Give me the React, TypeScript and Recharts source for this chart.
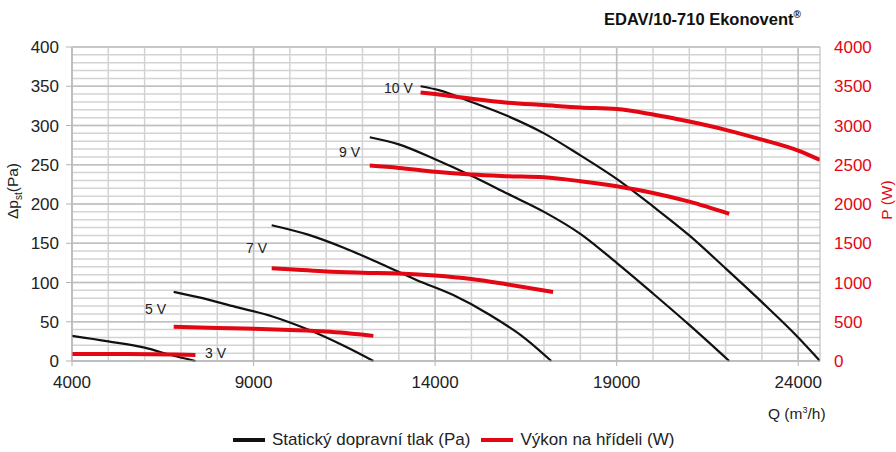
import React from 'react'
import { ComposedChart, Line, XAxis, YAxis, CartesianGrid } from 'recharts'

const RED = '#e30613'
const INK = '#111111'
const FONT = '"Liberation Sans", Arial, sans-serif'

// osa Q (m3/h)
const Q_TICKS = [4000, 9000, 14000, 19000, 24000]
const Q_MIN = 4000
const Q_MAX = 24600
const PA_TICKS = [0, 50, 100, 150, 200, 250, 300, 350, 400]
const W_TICKS = [0, 500, 1000, 1500, 2000, 2500, 3000, 3500, 4000]
const Q_MINOR = Array.from({ length: 21 }, (_, i) => 4000 + i * 1000)
const PA_MINOR = Array.from({ length: 41 }, (_, i) => i * 10)

// statický tlak (Pa)
const q10 = [13600, 14100, 15000, 16000, 17000, 18000, 19000, 20000, 21000, 22000, 23000, 24000, 24600]
const pa10 = [350, 345, 330, 312, 290, 262, 232, 197, 160, 118, 75, 30, 0]
const q9 = [12200, 13000, 14000, 15000, 16000, 17000, 18000, 19000, 20000, 21000, 22100]
const pa9 = [285, 276, 257, 236, 213, 190, 162, 125, 86, 46, 0]
const q7 = [9500, 10500, 11500, 12500, 13500, 14500, 15500, 16500, 17200]
const pa7 = [173, 161, 144, 124, 103, 84, 59, 28, 0]
const q5 = [6800, 7500, 8500, 9500, 10500, 11500, 12300]
const pa5 = [88, 81, 69, 57, 40, 19, 0]
const q3 = [4000, 5000, 6000, 6700, 7400]
const pa3 = [32, 25, 17, 8, 0]

// výkon na hřídeli (W)
const wq10 = [13600, 14000, 15000, 16000, 17000, 18000, 19000, 20000, 21000, 22000, 23000, 24000, 24600]
const w10 = [3420, 3400, 3340, 3290, 3260, 3230, 3210, 3140, 3050, 2945, 2820, 2680, 2560]
const wq9 = [12200, 13000, 14000, 15000, 16000, 17000, 18000, 19000, 20000, 21000, 22100]
const w9 = [2490, 2460, 2410, 2375, 2355, 2340, 2290, 2225, 2140, 2030, 1875]
const wq7 = [9500, 10000, 11000, 12000, 13000, 14000, 15000, 16000, 17250]
const w7 = [1180, 1170, 1140, 1125, 1115, 1090, 1045, 975, 880]
const wq5 = [6800, 8000, 9000, 10000, 11000, 12300]
const w5 = [435, 420, 410, 395, 375, 320]
const wq3 = [4000, 5500, 7400]
const w3 = [90, 88, 78]

const zip = (xs: number[], ys: number[]) => xs.map((x, i) => ({ q: x, v: ys[i] }))

const pressure = [zip(q10, pa10), zip(q9, pa9), zip(q7, pa7), zip(q5, pa5), zip(q3, pa3)]
const power = [zip(wq10, w10), zip(wq9, w9), zip(wq7, w7), zip(wq5, w5), zip(wq3, w3)]

const VOLT_LABELS = [
  { text: '10 V', left: 384, top: 80 },
  { text: '9 V', left: 339, top: 144 },
  { text: '7 V', left: 246, top: 240 },
  { text: '5 V', left: 145, top: 301 },
  { text: '3 V', left: 205, top: 345 },
]

const abs = (s: React.CSSProperties): React.CSSProperties => ({ position: 'absolute', whiteSpace: 'nowrap', ...s })

export default function App() {
  return (
    <div style={{ position: 'absolute', left: 0, top: 0, width: 896, height: 452, fontFamily: FONT, background: '#fff' }}>
      <ComposedChart
        width={896}
        height={452}
        margin={{ top: 47, right: 16, left: 0, bottom: 61 }}
      >
        <CartesianGrid
          yAxisId="left"
          horizontalValues={PA_MINOR}
          verticalValues={Q_MINOR}
          stroke="#d3d3d3"
          strokeWidth={1.5}
        />
        <CartesianGrid
          yAxisId="left"
          horizontalValues={PA_TICKS}
          verticalValues={Q_TICKS}
          stroke="#c0c0c0"
          strokeWidth={1.5}
        />
        <XAxis
          type="number"
          dataKey="q"
          domain={[Q_MIN, Q_MAX]}
          ticks={Q_TICKS}
          interval={0}
          allowDataOverflow
          height={30}
          tickSize={5}
          stroke="#b5b5b5"
          tick={{ fill: '#222', fontSize: 17, fontFamily: FONT }}
          tickMargin={10}
        />
        <YAxis
          yAxisId="left"
          type="number"
          domain={[0, 400]}
          ticks={PA_TICKS}
          interval={0}
          width={72}
          tickSize={6}
          stroke="#b5b5b5"
          tick={{ fill: '#222', fontSize: 17, fontFamily: FONT }}
          tickMargin={7}
        />
        <YAxis
          yAxisId="right"
          orientation="right"
          type="number"
          domain={[0, 4000]}
          ticks={W_TICKS}
          interval={0}
          width={60}
          tickSize={0}
          stroke="#b5b5b5"
          tick={{ fill: RED, fontSize: 17, fontFamily: FONT, textAnchor: 'start' }}
          tickMargin={14}
        />
        {pressure.map((d, i) => (
          <Line
            key={'p' + i}
            yAxisId="left"
            data={d}
            dataKey="v"
            type="monotone"
            stroke={INK}
            strokeWidth={2.2}
            dot={false}
            isAnimationActive={false}
          />
        ))}
        {power.map((d, i) => (
          <Line
            key={'w' + i}
            yAxisId="right"
            data={d}
            dataKey="v"
            type="monotone"
            stroke={RED}
            strokeWidth={4}
            dot={false}
            isAnimationActive={false}
          />
        ))}
      </ComposedChart>

      {VOLT_LABELS.map(l => (
        <div key={l.text} style={abs({ left: l.left, top: l.top, fontSize: 14, color: '#222' })}>{l.text}</div>
      ))}

      <div style={abs({ left: 604, top: 9, fontSize: 16.5, fontWeight: 'bold', color: '#111' })}>
        EDAV/10-710 Ekonovent<sup style={{ fontSize: 10 }}>®</sup>
      </div>

      <div style={abs({ left: 14, top: 191, transform: 'translate(-50%, -50%) rotate(-90deg)', fontSize: 15.5, color: '#222' })}>
        Δp<sub style={{ fontSize: 10 }}>st</sub>(Pa)
      </div>
      <div style={abs({ left: 887, top: 200, transform: 'translate(-50%, -50%) rotate(-90deg)', fontSize: 15.5, color: RED })}>
        P (W)
      </div>
      <div style={abs({ left: 768, top: 405, fontSize: 15.5, color: '#222' })}>
        Q (m<sup style={{ fontSize: 9 }}>3</sup>/h)
      </div>

      <div style={abs({ left: 233, top: 430, fontSize: 17, color: '#222', display: 'flex', alignItems: 'center' })}>
        <span style={{ display: 'inline-block', width: 32, height: 4, background: INK, marginRight: 7 }} />
        <span>Statický dopravní tlak (Pa)</span>
        <span style={{ display: 'inline-block', width: 32, height: 4, background: RED, marginLeft: 11, marginRight: 7 }} />
        <span>Výkon na hřídeli (W)</span>
      </div>
    </div>
  )
}
